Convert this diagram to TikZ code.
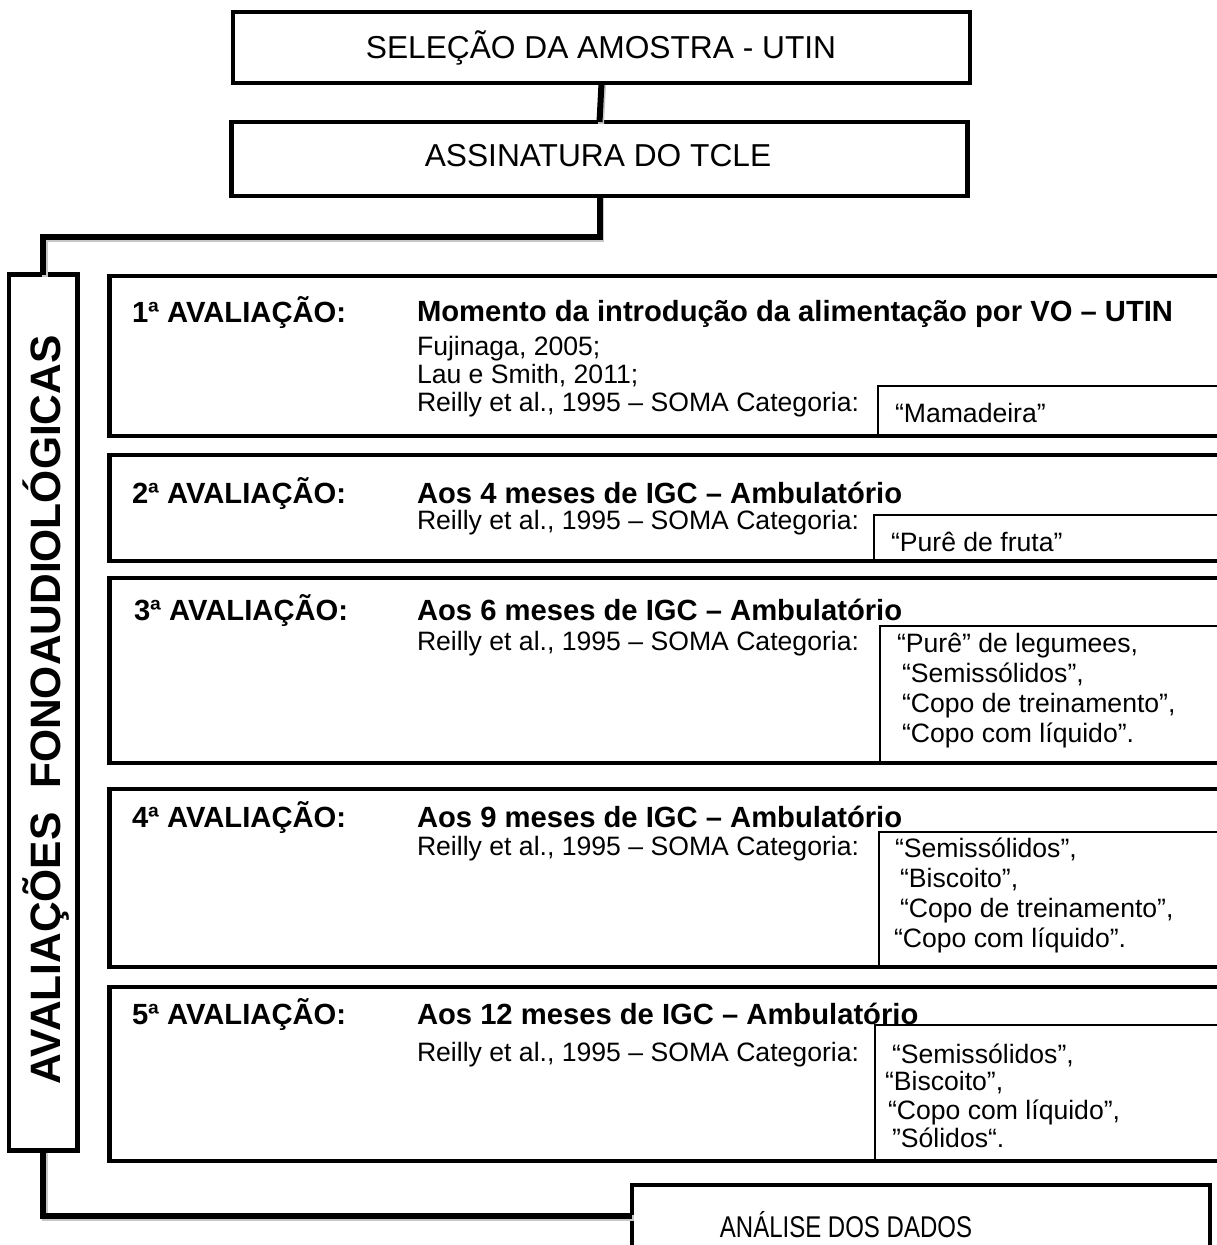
\documentclass[tikz,border=0pt]{standalone}
\usepackage{fontspec}
\setmainfont{Liberation Sans}
\usepackage{graphicx}
\newcommand{\evh}[1]{{\fontsize{29.2}{33}\selectfont\bfseries #1}}
\newcommand{\evr}[1]{{\fontsize{26.6}{30}\selectfont #1}}
\newcommand{\toptxt}[1]{{\fontsize{31.7}{36}\selectfont #1}}
\tikzset{
  thickbox/.style={draw=black, line width=4.5pt, rectangle, inner sep=0pt, outer sep=0pt, anchor=north west},
  thinbox/.style={draw=black, line width=1.4pt, rectangle, inner sep=0pt, outer sep=0pt, anchor=north west},
  conn/.style={line width=6pt, draw=black},
  connshadow/.style={line width=6pt, draw=black!22, transform canvas={shift={(1.5pt,-2pt)}}},
  lbl/.style={anchor=base west, inner sep=0pt, outer sep=0pt},
  ctr/.style={anchor=base, inner sep=0pt, outer sep=0pt},
}
\begin{document}
\begin{tikzpicture}[x=1pt,y=-1pt]
\useasboundingbox (0,0) rectangle (1217,1245);
\clip (0,0) rectangle (1217,1245);
\fill[white] (0,0) rectangle (1217,1245);

% top boxes
\node[thickbox, minimum width=737pt, minimum height=71pt] (sel) at (233,12) {};
\node[ctr] (selt) at (601,58) {\toptxt{SELEÇÃO DA AMOSTRA - UTIN}};
\node[thickbox, minimum width=736pt, minimum height=74pt] (tcle) at (231.5,122) {};
\node[ctr] (tclet) at (598,166) {\toptxt{ASSINATURA DO TCLE}};

% vertical box
\node[thickbox, minimum width=68.5pt, minimum height=876pt] (vbox) at (9,274.5) {};
\node[rotate=90, anchor=base, inner sep=0pt] (vtxt) at (60,710)
  {\fontsize{42.5}{46}\selectfont\bfseries AVALIAÇÕES\ \ FONOAUDIOLÓGICAS};

% analysis box
\node[thickbox, minimum width=578pt, minimum height=62pt] (ana) at (632,1185) {};
\node[ctr] (anat) at (846,1237) {\scalebox{0.8}[1]{\fontsize{30}{34}\selectfont ANÁLISE DOS DADOS}};

% connectors
\draw[connshadow] (sel.south) -- (tcle.north);
\draw[conn] (sel.south) -- (tcle.north);
\draw[connshadow] (tcle.south) -- ++(0,41) -| (vbox.north);
\draw[conn] (tcle.south) -- ++(0,41) -| (vbox.north);
\draw[connshadow] (vbox.south) |- (ana.west);
\draw[conn] (vbox.south) |- (ana.west);

% evaluation boxes
\node[thickbox, minimum width=1125pt, minimum height=160pt] (b1) at (109.5,276) {};
\node[thinbox, minimum width=360pt, minimum height=50pt] (ib1) at (878,386) {};
\node[lbl] (l1) at (132,322) {\evh{1ª AVALIAÇÃO:}};
\node[lbl] (h1) at (417,321) {\evh{Momento da introdução da alimentação por VO – UTIN}};
\node[lbl] (r1a) at (417,355) {\evr{Fujinaga, 2005;}};
\node[lbl] (r1b) at (417,383) {\evr{Lau e Smith, 2011;}};
\node[lbl] (r1c) at (417,411) {\evr{Reilly et al., 1995 – SOMA Categoria:}};
\node[lbl] (c1) at (895,422) {\evr{“Mamadeira”}};

\node[thickbox, minimum width=1125pt, minimum height=106pt] (b2) at (109.5,455) {};
\node[thinbox, minimum width=365pt, minimum height=46pt] (ib2) at (874,515) {};
\node[lbl] (l2) at (132,503) {\evh{2ª AVALIAÇÃO:}};
\node[lbl] (h2) at (417,503) {\evh{Aos 4 meses de IGC – Ambulatório}};
\node[lbl] (r2) at (417,529) {\evr{Reilly et al., 1995 – SOMA Categoria:}};
\node[lbl] (c2) at (891,551) {\evr{“Purê de fruta”}};

\node[thickbox, minimum width=1125pt, minimum height=185pt] (b3) at (109.5,578) {};
\node[thinbox, minimum width=360pt, minimum height=137pt] (ib3) at (880,626) {};
\node[lbl] (l3) at (134,620) {\evh{3ª AVALIAÇÃO:}};
\node[lbl] (h3) at (417,620) {\evh{Aos 6 meses de IGC – Ambulatório}};
\node[lbl] (r3) at (417,650) {\evr{Reilly et al., 1995 – SOMA Categoria:}};
\node[lbl] (c3a) at (897,652) {\evr{“Purê” de legumees,}};
\node[lbl] (c3b) at (902,682) {\evr{“Semissólidos”,}};
\node[lbl] (c3c) at (902,712) {\evr{“Copo de treinamento”,}};
\node[lbl] (c3d) at (902,742) {\evr{“Copo com líquido”.}};

\node[thickbox, minimum width=1125pt, minimum height=178pt] (b4) at (109.5,789) {};
\node[thinbox, minimum width=360pt, minimum height=135pt] (ib4) at (879,832) {};
\node[lbl] (l4) at (132,827) {\evh{4ª AVALIAÇÃO:}};
\node[lbl] (h4) at (417,827) {\evh{Aos 9 meses de IGC – Ambulatório}};
\node[lbl] (r4) at (417,855) {\evr{Reilly et al., 1995 – SOMA Categoria:}};
\node[lbl] (c4a) at (895,857) {\evr{“Semissólidos”,}};
\node[lbl] (c4b) at (900,887) {\evr{“Biscoito”,}};
\node[lbl] (c4c) at (900,917) {\evr{“Copo de treinamento”,}};
\node[lbl] (c4d) at (894,947) {\evr{“Copo com líquido”.}};

\node[thickbox, minimum width=1125pt, minimum height=174pt] (b5) at (109.5,987) {};
\node[lbl] (l5) at (132,1024) {\evh{5ª AVALIAÇÃO:}};
\node[lbl] (h5) at (417,1024) {\evh{Aos 12 meses de IGC – Ambulatório}};
\node[thinbox, minimum width=365pt, minimum height=135pt] (ib5) at (875,1025) {};
\node[lbl] (r5) at (417,1061) {\evr{Reilly et al., 1995 – SOMA Categoria:}};
\node[lbl] (c5a) at (892,1063) {\evr{“Semissólidos”,}};
\node[lbl] (c5b) at (885,1090) {\evr{“Biscoito”,}};
\node[lbl] (c5c) at (888,1119) {\evr{“Copo com líquido”,}};
\node[lbl] (c5d) at (892,1147) {\evr{”Sólidos“.}};
\end{tikzpicture}
\end{document}
